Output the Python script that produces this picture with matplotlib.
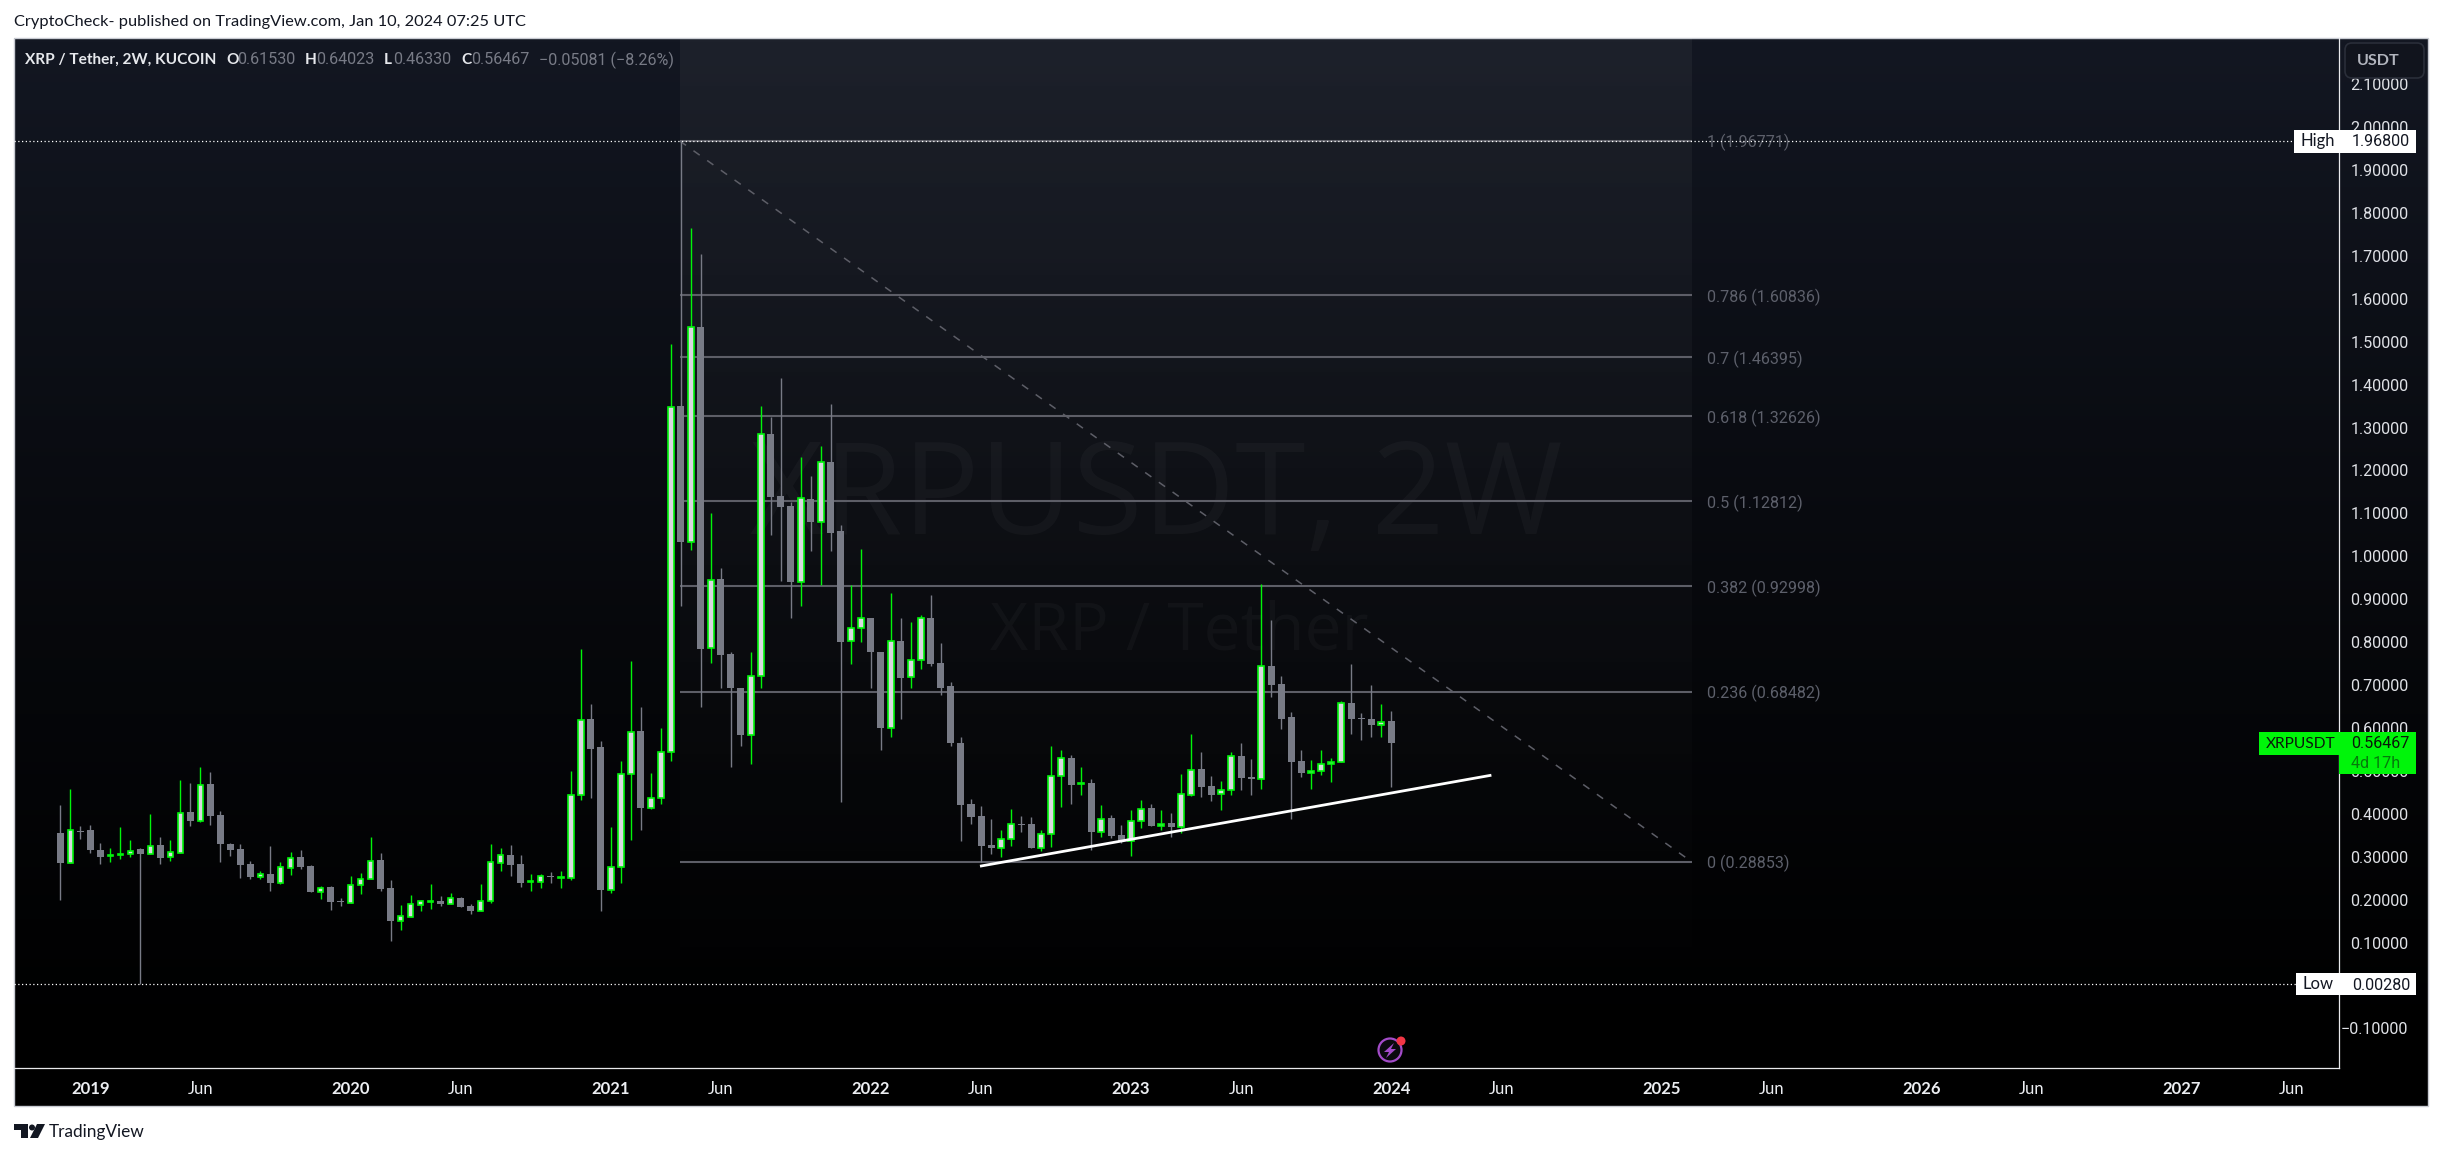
"""XRP / Tether 2W candles with fib retracement, TradingView style."""
import numpy as np
import matplotlib
matplotlib.use("Agg")
import matplotlib.pyplot as plt
from matplotlib.patches import Rectangle, FancyBboxPatch, Circle, Polygon

plt.rcParams['font.family'] = ['Lato', 'DejaVu Sans']

W, H = 2443, 1155

opens = [.355, .286, .359, .362, .315, .302, .304, .307, .318, .307,
         .327, .300, .309, .404, .383, .469, .397, .329, .318, .283,
         .252, .259, .239, .274, .299, .278, .218, .229, .197, .193,
         .235, .249, .292, .227, .151, .160, .188, .195, .197, .190,
         .204, .185, .174, .197, .286, .304, .283, .241, .242, .254,
         .251, .251, .444, .620, .555, .223, .276, .493, .592, .414,
         .437, .545, 1.350, 1.034, 1.535, .786, .946, .773, .694, .583,
         .721, 1.285, 1.141, 1.117, .939, 1.134, 1.081, 1.220, 1.059, .802,
         .832, .856, .778, .600, .803, .718, .758, .857, .752, .697,
         .566, .422, .394, .327, .321, .342, .377, .376, .321, .353,
         .488, .531, .469, .471, .358, .390, .350, .337, .383, .413,
         .372, .378, .369, .445, .504, .464, .446, .455, .534, .485,
         .481, .745, .703, .625, .522, .495, .500, .516, .521, .659,
         .624, .622, .607, .61530]
highs = [.420, .459, .371, .375, .332, .320, .369, .338, .320, .399,
         .345, .338, .478, .471, .508, .497, .406, .332, .329, .290,
         .266, .325, .287, .311, .315, .280, .232, .232, .205, .255,
         .262, .345, .308, .246, .187, .211, .199, .236, .208, .215,
         .206, .190, .236, .329, .320, .327, .304, .259, .259, .264,
         .266, .499, .783, .657, .569, .369, .522, .755, .650, .494,
         .599, 1.495, 1.968, 1.765, 1.704, 1.101, .973, .778, .694, .776,
         1.350, 1.325, 1.416, 1.127, 1.231, 1.187, 1.257, 1.355, 1.073, .934,
         1.017, .857, .778, .915, .857, .848, .863, .910, .799, .706,
         .578, .434, .418, .387, .362, .411, .394, .392, .362, .557,
         .548, .536, .508, .480, .420, .397, .373, .408, .432, .422,
         .408, .401, .492, .585, .545, .487, .476, .545, .564, .527,
         .936, .852, .720, .638, .548, .525, .548, .531, .662, .748,
         .636, .699, .657, .64023]
lows = [.199, .286, .341, .308, .283, .287, .294, .299, .0028, .307,
        .283, .290, .309, .371, .380, .373, .287, .301, .250, .248,
        .248, .220, .236, .257, .271, .218, .201, .176, .185, .193,
        .213, .249, .220, .104, .129, .160, .173, .178, .185, .190,
        .183, .166, .174, .192, .266, .255, .229, .220, .227, .239,
        .227, .246, .432, .436, .173, .215, .239, .338, .362, .411,
        .422, .524, .885, 1.015, .649, .752, .694, .508, .557, .515,
        .694, 1.050, .943, .857, .885, 1.013, .934, 1.013, .427, .748,
        .801, .692, .548, .580, .620, .692, .738, .745, .678, .557,
        .336, .376, .288, .306, .299, .325, .357, .320, .313, .322,
        .415, .422, .443, .315, .345, .343, .332, .301, .366, .371,
        .362, .345, .355, .441, .439, .431, .408, .443, .455, .443,
        .457, .673, .597, .387, .485, .457, .490, .473, .521, .585,
        .571, .578, .578, .46330]
closes = [.285, .363, .358, .315, .299, .304, .306, .314, .306, .326,
          .297, .310, .403, .383, .468, .394, .329, .315, .280, .252,
          .259, .239, .277, .298, .276, .218, .228, .194, .195, .235,
          .249, .291, .225, .150, .161, .189, .196, .196, .190, .203,
          .183, .173, .198, .287, .303, .280, .239, .243, .254, .253,
          .252, .445, .619, .552, .222, .277, .493, .591, .413, .438,
          .545, 1.349, 1.034, 1.534, .785, .945, .771, .692, .583, .721,
          1.284, 1.138, 1.115, .941, 1.135, 1.080, 1.219, 1.055, .801, .833,
          .856, .776, .599, .803, .717, .759, .856, .750, .694, .564,
          .420, .392, .325, .320, .342, .377, .373, .320, .354, .489,
          .531, .466, .471, .357, .389, .348, .336, .384, .412, .371,
          .377, .369, .447, .503, .462, .445, .456, .535, .483, .481,
          .745, .701, .622, .520, .494, .500, .517, .521, .658, .622,
          .621, .606, .615, .56467]

fib_ratios = ["1", "0.786", "0.7", "0.618", "0.5", "0.382", "0.236", "0"]
fib_prices = [1.96771, 1.60836, 1.46395, 1.32626, 1.12812, 0.92998, 0.68482, 0.28853]
fib_start, fib_end = 61.9, 163.0
trend_x = [91.9, 143.0]
trend_y = [0.278, 0.490]

price_ticks = [round(-0.1 + 0.1 * i, 1) for i in range(23)]
time_pos = [3, 14, 29, 40, 55, 66, 81, 92, 107, 118, 133, 144, 160, 171, 186, 197, 212, 223]
time_labels = ["2019", "Jun", "2020", "Jun", "2021", "Jun", "2022", "Jun", "2023", "Jun",
               "2024", "Jun", "2025", "Jun", "2026", "Jun", "2027", "Jun"]

GREEN = "#00f50a"
GREY = "#787b86"
FIB = "#5d5e67"
FIB_TEXT = "#5d606b"
NUM_FONT = ['Roboto', 'DejaVu Sans']
NUM_SIZE = 11.6
Y_MIN, Y_MAX = -0.1922, 2.2076

fig = plt.figure(figsize=(W / 100, H / 100), dpi=100, facecolor="white")


def px_axes(zorder):
    a = fig.add_axes([0, 0, 1, 1], zorder=zorder)
    a.set_xlim(0, W)
    a.set_ylim(H, 0)
    a.axis("off")
    a.patch.set_alpha(0)
    return a


# chart background fades from navy to black
back = px_axes(0)
grad = np.linspace(0, 1, 256).reshape(-1, 1)
top_col = np.array([0x13, 0x17, 0x22]) / 255
rgb = (top_col * (1 - grad) ** 1.25)[:, None, :].reshape(256, 1, 3)
back.imshow(rgb, extent=(14, 2428, 1068, 38), aspect="auto", zorder=0)
back.add_patch(Rectangle((14, 1068), 2414, 38, fc="black", ec="none", zorder=1))
back.add_patch(Rectangle((14, 38), 2414, 1068, fc="none", ec="#c8cbd2", lw=1, zorder=2))
back.set_xlim(0, W)
back.set_ylim(H, 0)

# main price pane
ax = fig.add_axes([14 / W, 1 - 1068 / H, (2339 - 14) / W, (1068 - 38) / H], zorder=1)
ax.patch.set_alpha(0)

# fib background, lighter towards the top
shade = np.zeros((256, 1, 4))
shade[..., :3] = 1
shade[..., 3] = np.linspace(0.045, 0.003, 256).reshape(-1, 1)
ax.imshow(shade, extent=(fib_start, fib_end, Y_MIN, Y_MAX), aspect="auto", zorder=1)
ax.set_xlim(-4.63, 227.7)
ax.set_ylim(Y_MIN, Y_MAX)

# watermark
ax.text(109.5, 1.13, "XRPUSDT, 2W", color="white", alpha=0.032, fontsize=92, family="Open Sans",
        ha="center", va="center", zorder=1)
ax.text(111.8, 0.823, "XRP / Tether", color="white", alpha=0.032, fontsize=47.5, family="Open Sans",
        ha="center", va="center", zorder=1)

# fib levels
for ratio, price in zip(fib_ratios, fib_prices):
    ax.hlines(price, fib_start, fib_end, color=FIB, lw=1.5, zorder=2)
    ax.text(fib_end + 1.5, price - 0.004, f"{ratio} ({price:.5f})", color=FIB_TEXT,
            fontsize=NUM_SIZE, family=NUM_FONT, va="center", ha="left", zorder=2)
ax.plot([fib_start, fib_end], [fib_prices[0], fib_prices[-1]], color=FIB, lw=1.1,
        dashes=(5, 6), zorder=2)

# candles
x = np.arange(len(opens))
o, h, l, c = map(np.array, (opens, highs, lows, closes))
up = c >= o
ax.vlines(x[~up], l[~up], h[~up], color=GREY, lw=1.0, zorder=3)
ax.vlines(x[up], l[up], h[up], color=GREEN, lw=1.0, zorder=3)
ax.bar(x[~up], (o - c)[~up], bottom=c[~up], width=0.7, color=GREY, zorder=4)
ax.bar(x[up], (c - o)[up], bottom=o[up], width=0.56, color="#d8d9de", edgecolor=GREEN,
       linewidth=1.2, zorder=4)

ax.plot(trend_x, trend_y, color="white", lw=2.0, solid_capstyle="butt", zorder=5)

# high / low of the visible range
ax.axhline(1.968, color="white", lw=0.9, ls=(0, (1, 2)), zorder=5)
ax.axhline(0.0028, color="white", lw=0.9, ls=(0, (1, 2)), zorder=5)

ax.yaxis.tick_right()
ax.set_yticks(price_ticks)
ax.set_yticklabels([f"{t:.5f}".replace("-", "\u2212") for t in price_ticks], fontsize=NUM_SIZE,
                   family=NUM_FONT, color="#dfe1e6", ha="right")
ax.tick_params(axis="y", length=0, pad=50)
ax.set_xticks(time_pos)
ax.set_xticklabels(time_labels, fontsize=12, color="#eceef2")
ax.tick_params(axis="x", length=0, pad=9)
for lab in ax.get_xticklabels():
    if lab.get_text() != "Jun":
        lab.set_fontweight("bold")
for name, sp in ax.spines.items():
    sp.set_visible(name in ("right", "bottom"))
    sp.set_color("#e8e9ec")
    sp.set_linewidth(0.9)

# overlay: header, price tags, logo
top = px_axes(3)
top.text(14, 22, "CryptoCheck- published on TradingView.com, Jan 10, 2024 07:25 UTC",
         fontsize=11.8, color="#131722", va="center")
top.text(25, 60, "XRP / Tether, 2W, KUCOIN", fontsize=11.1, color="#e6e8ec", fontweight="bold",
         va="center")
legend_parts = [("O", 226, "0.61530", 237), ("H", 305, "0.64023", 316),
                ("L", 384, "0.46330", 393), ("C", 461, "0.56467", 471)]
for letter, lx, val, vx in legend_parts:
    top.text(lx, 60, letter, fontsize=11.1, color="#e6e8ec", fontweight="bold", va="center")
    top.text(vx, 60, val, fontsize=NUM_SIZE, family=NUM_FONT, color=GREY, va="center")
top.text(539, 60, "\u22120.05081 (\u22128.26%)", fontsize=NUM_SIZE, family=NUM_FONT, color=GREY,
         va="center")

top.add_patch(FancyBboxPatch((2345, 43), 79, 35, boxstyle="round,pad=0,rounding_size=7",
                             fc="#11141d", ec="#2a2e39", lw=1.2))
top.text(2357, 61, "USDT", fontsize=11.6, color="#b2b5be", va="center", fontweight="bold")

top.add_patch(Rectangle((2294, 130), 122, 23, fc="white", ec="none"))
top.text(2300, 141, "High", fontsize=12, color="#131722", va="center")
top.text(2410, 142, "1.96800", fontsize=NUM_SIZE, family=NUM_FONT, color="#131722", va="center", ha="right")
top.add_patch(Rectangle((2296, 973), 120, 22, fc="white", ec="none"))
top.text(2303, 984, "Low", fontsize=12, color="#131722", va="center")
top.text(2410, 985, "0.00280", fontsize=NUM_SIZE, family=NUM_FONT, color="#131722", va="center", ha="right")

top.add_patch(Rectangle((2259, 732), 157, 23, fc=GREEN, ec="none"))
top.add_patch(Rectangle((2339, 732), 77, 42, fc=GREEN, ec="none"))
top.text(2266, 744, "XRPUSDT", fontsize=11.2, color="#0a1a0a", va="center")
top.text(2410, 744, "0.56467", fontsize=NUM_SIZE, family=NUM_FONT, color="#0a1a0a", va="center", ha="right")
top.text(2351, 764, "4d 17h", fontsize=NUM_SIZE, family=NUM_FONT, color="#067a0c", va="center")

# lightning badge
top.add_patch(Circle((1390, 1050), 11.5, fc="#0a0a0e", ec="#a34bc9", lw=1.6))
top.add_patch(Polygon([(1394, 1043), (1384, 1052), (1389, 1052), (1386, 1058),
                       (1396, 1049), (1391, 1049)], fc="#a34bc9", ec="none"))
top.add_patch(Circle((1401, 1041), 4.5, fc="#f23645", ec="none"))

# logo
top.add_patch(Polygon([(14, 1124), (28, 1124), (28, 1138), (21, 1138), (21, 1130), (14, 1130)],
                      fc="#131722", ec="none"))
top.add_patch(Circle((32, 1127.5), 3, fc="#131722", ec="none"))
top.add_patch(Polygon([(37, 1124), (45, 1124), (38, 1138), (30, 1138)], fc="#131722", ec="none"))
top.text(49, 1132, "TradingView", fontsize=12.4, color="#131722", va="center")

fig.savefig("out.png", dpi=100)
